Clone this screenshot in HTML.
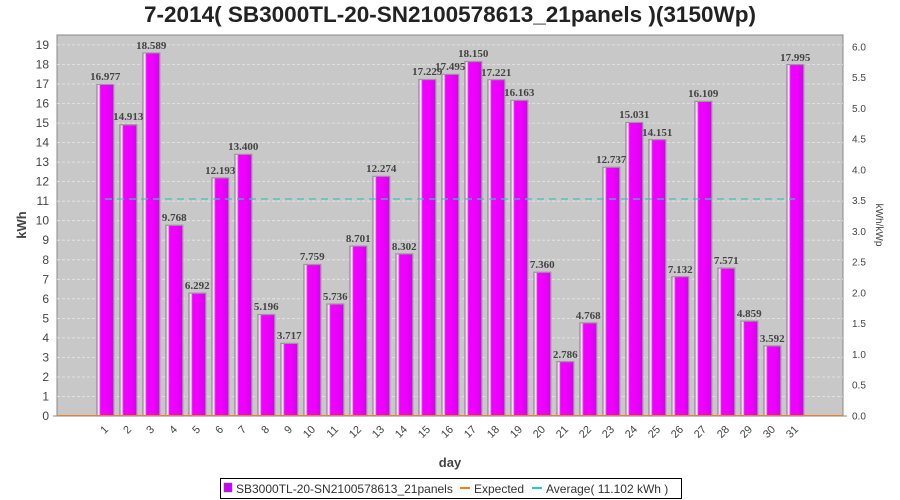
<!DOCTYPE html>
<html><head><style>body{margin:0;background:#fff}svg{display:block}</style></head><body>
<svg width="900" height="500" xmlns="http://www.w3.org/2000/svg" font-family="Liberation Sans, sans-serif">
<defs>
<linearGradient id="g" x1="0" x2="1" y1="0" y2="0">
<stop offset="0" stop-color="#d080e0"/><stop offset="0.12" stop-color="#ffffff"/><stop offset="0.22" stop-color="#f000ff"/><stop offset="0.6" stop-color="#ee00ff"/><stop offset="1" stop-color="#d800f0"/>
</linearGradient>
</defs>
<rect width="900" height="500" fill="#fff"/>
<text x="450" y="22" text-anchor="middle" font-size="22" font-weight="bold" fill="#222" textLength="612" lengthAdjust="spacingAndGlyphs">7-2014( SB3000TL-20-SN2100578613_21panels )(3150Wp)</text>
<rect x="57" y="35" width="786" height="381" fill="#c8c8c8" stroke="#888"/>
<g stroke="#888"><line x1="53" x2="57" y1="416" y2="416"/><line x1="843" x2="847" y1="416" y2="416"/></g>
<g stroke="#e8e8e8" stroke-dasharray="3,2" stroke-width="0.8">
<line x1="57" x2="843" y1="396.5" y2="396.5"/><line x1="57" x2="843" y1="377" y2="377"/><line x1="57" x2="843" y1="357.4" y2="357.4"/><line x1="57" x2="843" y1="337.9" y2="337.9"/><line x1="57" x2="843" y1="318.4" y2="318.4"/><line x1="57" x2="843" y1="298.8" y2="298.8"/><line x1="57" x2="843" y1="279.3" y2="279.3"/><line x1="57" x2="843" y1="259.8" y2="259.8"/><line x1="57" x2="843" y1="240.2" y2="240.2"/><line x1="57" x2="843" y1="220.7" y2="220.7"/><line x1="57" x2="843" y1="201.2" y2="201.2"/><line x1="57" x2="843" y1="181.6" y2="181.6"/><line x1="57" x2="843" y1="162.1" y2="162.1"/><line x1="57" x2="843" y1="142.6" y2="142.6"/><line x1="57" x2="843" y1="123.1" y2="123.1"/><line x1="57" x2="843" y1="103.5" y2="103.5"/><line x1="57" x2="843" y1="84" y2="84"/><line x1="57" x2="843" y1="64.5" y2="64.5"/><line x1="57" x2="843" y1="44.9" y2="44.9"/>
</g>
<g transform="translate(0,416) scale(1,-19.53)" fill="url(#g)" stroke="#999" stroke-width="1.2">
<rect vector-effect="non-scaling-stroke" x="96.8" width="17" y="0" height="16.977"/>
<rect vector-effect="non-scaling-stroke" x="119.8" width="17" y="0" height="14.913"/>
<rect vector-effect="non-scaling-stroke" x="142.8" width="17" y="0" height="18.589"/>
<rect vector-effect="non-scaling-stroke" x="165.8" width="17" y="0" height="9.768"/>
<rect vector-effect="non-scaling-stroke" x="188.8" width="17" y="0" height="6.292"/>
<rect vector-effect="non-scaling-stroke" x="211.8" width="17" y="0" height="12.193"/>
<rect vector-effect="non-scaling-stroke" x="234.8" width="17" y="0" height="13.400"/>
<rect vector-effect="non-scaling-stroke" x="257.8" width="17" y="0" height="5.196"/>
<rect vector-effect="non-scaling-stroke" x="280.8" width="17" y="0" height="3.717"/>
<rect vector-effect="non-scaling-stroke" x="303.8" width="17" y="0" height="7.759"/>
<rect vector-effect="non-scaling-stroke" x="326.8" width="17" y="0" height="5.736"/>
<rect vector-effect="non-scaling-stroke" x="349.8" width="17" y="0" height="8.701"/>
<rect vector-effect="non-scaling-stroke" x="372.8" width="17" y="0" height="12.274"/>
<rect vector-effect="non-scaling-stroke" x="395.8" width="17" y="0" height="8.302"/>
<rect vector-effect="non-scaling-stroke" x="418.8" width="17" y="0" height="17.229"/>
<rect vector-effect="non-scaling-stroke" x="441.8" width="17" y="0" height="17.495"/>
<rect vector-effect="non-scaling-stroke" x="464.8" width="17" y="0" height="18.150"/>
<rect vector-effect="non-scaling-stroke" x="487.8" width="17" y="0" height="17.221"/>
<rect vector-effect="non-scaling-stroke" x="510.8" width="17" y="0" height="16.163"/>
<rect vector-effect="non-scaling-stroke" x="533.8" width="17" y="0" height="7.360"/>
<rect vector-effect="non-scaling-stroke" x="556.8" width="17" y="0" height="2.786"/>
<rect vector-effect="non-scaling-stroke" x="579.8" width="17" y="0" height="4.768"/>
<rect vector-effect="non-scaling-stroke" x="602.8" width="17" y="0" height="12.737"/>
<rect vector-effect="non-scaling-stroke" x="625.8" width="17" y="0" height="15.031"/>
<rect vector-effect="non-scaling-stroke" x="648.8" width="17" y="0" height="14.151"/>
<rect vector-effect="non-scaling-stroke" x="671.8" width="17" y="0" height="7.132"/>
<rect vector-effect="non-scaling-stroke" x="694.8" width="17" y="0" height="16.109"/>
<rect vector-effect="non-scaling-stroke" x="717.8" width="17" y="0" height="7.571"/>
<rect vector-effect="non-scaling-stroke" x="740.8" width="17" y="0" height="4.859"/>
<rect vector-effect="non-scaling-stroke" x="763.8" width="17" y="0" height="3.592"/>
<rect vector-effect="non-scaling-stroke" x="786.8" width="17" y="0" height="17.995"/>
</g>
<line x1="57" x2="843" y1="415.5" y2="415.5" stroke="#f08020" stroke-width="1"/>
<line x1="105" x2="795" y1="199" y2="199" stroke="#40c0c0" stroke-width="1.2" stroke-dasharray="7,5"/>
<g font-family="Liberation Serif, serif" font-weight="bold" font-size="11" fill="#444" text-anchor="middle">
<text x="105.3" y="80">16.977</text><text x="128.3" y="120">14.913</text><text x="151.3" y="49">18.589</text><text x="174.3" y="221">9.768</text><text x="197.3" y="289">6.292</text><text x="220.3" y="174">12.193</text><text x="243.3" y="150">13.400</text><text x="266.3" y="310">5.196</text><text x="289.3" y="339">3.717</text><text x="312.3" y="260">7.759</text><text x="335.3" y="300">5.736</text><text x="358.3" y="242">8.701</text><text x="381.3" y="172">12.274</text><text x="404.3" y="250">8.302</text><text x="427.3" y="75">17.229</text><text x="450.3" y="70">17.495</text><text x="473.3" y="57">18.150</text><text x="496.3" y="76">17.221</text><text x="519.3" y="96">16.163</text><text x="542.3" y="268">7.360</text><text x="565.3" y="358">2.786</text><text x="588.3" y="319">4.768</text><text x="611.3" y="163">12.737</text><text x="634.3" y="118">15.031</text><text x="657.3" y="136">14.151</text><text x="680.3" y="273">7.132</text><text x="703.3" y="97">16.109</text><text x="726.3" y="264">7.571</text><text x="749.3" y="317">4.859</text><text x="772.3" y="342">3.592</text><text x="795.3" y="61">17.995</text>
</g>
<g font-size="12" fill="#444" text-anchor="end">
<text x="49" y="420">0</text><text x="49" y="400.5">1</text><text x="49" y="381">2</text><text x="49" y="361.4">3</text><text x="49" y="341.9">4</text><text x="49" y="322.4">5</text><text x="49" y="302.8">6</text><text x="49" y="283.3">7</text><text x="49" y="263.8">8</text><text x="49" y="244.2">9</text><text x="49" y="224.7">10</text><text x="49" y="205.2">11</text><text x="49" y="185.6">12</text><text x="49" y="166.1">13</text><text x="49" y="146.6">14</text><text x="49" y="127.1">15</text><text x="49" y="107.5">16</text><text x="49" y="88">17</text><text x="49" y="68.5">18</text><text x="49" y="48.9">19</text>
</g>
<g font-size="10" fill="#444">
<text x="852" y="419.5">0.0</text><text x="852" y="388.7">0.5</text><text x="852" y="358">1.0</text><text x="852" y="327.2">1.5</text><text x="852" y="296.5">2.0</text><text x="852" y="265.7">2.5</text><text x="852" y="235">3.0</text><text x="852" y="204.2">3.5</text><text x="852" y="173.5">4.0</text><text x="852" y="142.7">4.5</text><text x="852" y="112">5.0</text><text x="852" y="81.2">5.5</text><text x="852" y="50.4">6.0</text>
</g>
<text transform="translate(26,225) rotate(-90)" text-anchor="middle" font-size="13" font-weight="bold" fill="#444">kWh</text>
<text transform="translate(876,225) rotate(90)" text-anchor="middle" font-size="10" fill="#444">kWh/kWp</text>
<text x="450" y="467" text-anchor="middle" font-size="13" font-weight="bold" fill="#444">day</text>
<g font-size="11" fill="#444" text-anchor="end">
<text transform="translate(109,430) rotate(-45)">1</text><text transform="translate(132,430) rotate(-45)">2</text><text transform="translate(155,430) rotate(-45)">3</text><text transform="translate(178,430) rotate(-45)">4</text><text transform="translate(201,430) rotate(-45)">5</text><text transform="translate(224,430) rotate(-45)">6</text><text transform="translate(247,430) rotate(-45)">7</text><text transform="translate(270,430) rotate(-45)">8</text><text transform="translate(293,430) rotate(-45)">9</text><text transform="translate(316,430) rotate(-45)">10</text><text transform="translate(339,430) rotate(-45)">11</text><text transform="translate(362,430) rotate(-45)">12</text><text transform="translate(385,430) rotate(-45)">13</text><text transform="translate(408,430) rotate(-45)">14</text><text transform="translate(431,430) rotate(-45)">15</text><text transform="translate(454,430) rotate(-45)">16</text><text transform="translate(477,430) rotate(-45)">17</text><text transform="translate(500,430) rotate(-45)">18</text><text transform="translate(523,430) rotate(-45)">19</text><text transform="translate(546,430) rotate(-45)">20</text><text transform="translate(569,430) rotate(-45)">21</text><text transform="translate(592,430) rotate(-45)">22</text><text transform="translate(615,430) rotate(-45)">23</text><text transform="translate(638,430) rotate(-45)">24</text><text transform="translate(661,430) rotate(-45)">25</text><text transform="translate(684,430) rotate(-45)">26</text><text transform="translate(707,430) rotate(-45)">27</text><text transform="translate(730,430) rotate(-45)">28</text><text transform="translate(753,430) rotate(-45)">29</text><text transform="translate(776,430) rotate(-45)">30</text><text transform="translate(799,430) rotate(-45)">31</text>
</g>
<rect x="220.5" y="478.5" width="461" height="20" fill="#fff" stroke="#000"/>
<rect x="224" y="483" width="8" height="9" fill="#cc00ff" stroke="#666" stroke-width="0.5"/>
<text x="236" y="493" font-size="12" fill="#333">SB3000TL-20-SN2100578613_21panels</text>
<line x1="460" x2="470" y1="488" y2="488" stroke="#f08020" stroke-width="2"/>
<text x="474" y="493" font-size="12" fill="#333">Expected</text>
<line x1="532" x2="542" y1="488" y2="488" stroke="#30c8d0" stroke-width="2"/>
<text x="546" y="493" font-size="12" fill="#333">Average( 11.102 kWh )</text>
</svg>
</body></html>
